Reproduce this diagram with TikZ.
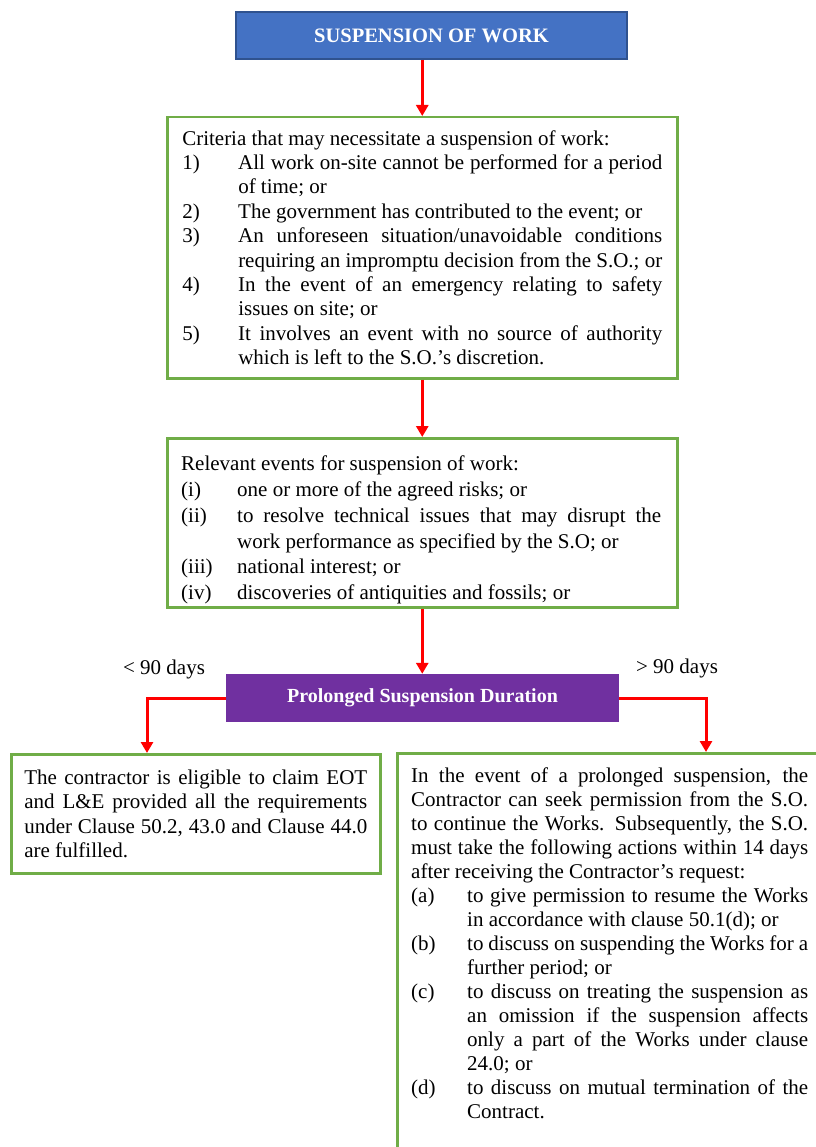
\documentclass[tikz,border=0pt]{standalone}
\usepackage{fontspec}
\setmainfont{Liberation Serif}
\usetikzlibrary{arrows.meta}
\definecolor{hdblue}{HTML}{4472C4}
\definecolor{hdblueline}{HTML}{2F528F}
\definecolor{boxgreen}{HTML}{70AD47}
\definecolor{durpurple}{HTML}{7030A0}
\hyphenpenalty=10000
\exhyphenpenalty=10000
\newcommand{\itm}[2]{\par\noindent\hangindent=56pt\hangafter=1\makebox[56pt][l]{#1}#2\par}

\begin{document}
\begin{tikzpicture}[x=1pt,y=-1pt,
  txt/.style={font=\fontsize{21}{24.4}\selectfont},
  headbox/.style={draw=hdblueline,line width=1.5pt,fill=hdblue,text=white,
    font=\fontsize{20.5}{24}\selectfont\bfseries,minimum width=391pt,minimum height=47pt,inner sep=0pt},
  durbox/.style={fill=durpurple,text=white,
    font=\fontsize{20}{24}\selectfont\bfseries,minimum width=393pt,minimum height=48pt,inner sep=0pt},
  infobox/.style={draw=boxgreen,line width=2.5pt,txt,align=justify,inner xsep=15pt,inner ysep=0pt,anchor=north west},
  bodytext/.style={txt,align=justify,inner sep=0pt,anchor=north west},
  arr/.style={draw=red,line width=3pt,-{Triangle[length=11pt,width=12pt]}}]

  \useasboundingbox (0,0) rectangle (815,1147);

  %%%%% BOXES %%%%%

  \node[headbox] (title) at (431.5,35.5) {SUSPENSION OF WORK};

  \node[infobox,text width=480pt,minimum width=510pt,minimum height=261pt] (crit) at (166,116) {\noindent
    Criteria that may necessitate a suspension of work:
    \itm{1)}{All work on-site cannot be performed for a period\linebreak of time; or}
    \itm{2)}{The government has contributed to the event; or}
    \itm{3)}{An unforeseen situation/unavoidable conditions\linebreak requiring an impromptu decision from the S.O.; or}
    \itm{4)}{In the event of an emergency relating to safety\linebreak issues on site; or}
    \itm{5)}{It involves an event with no source of authority\linebreak which is left to the S.O.'s discretion.}};

  \node[infobox,minimum width=510pt,minimum height=169pt] (events) at (166,437) {};
  \node[bodytext,font=\fontsize{21}{25.7}\selectfont,text width=480pt] (eventstext) at (181,456) {\noindent
    Relevant events for suspension of work:
    \itm{(i)}{one or more of the agreed risks; or}
    \itm{(ii)}{to resolve technical issues that may disrupt the\linebreak work performance as specified by the S.O; or}
    \itm{(iii)}{national interest; or}
    \itm{(iv)}{discoveries of antiquities and fossils; or}};

  \node[durbox] (dur) at (422.5,698) {Prolonged Suspension Duration};

  \node[txt] (lt90) at (164,669) {< 90 days};
  \node[txt] (gt90) at (677,668) {> 90 days};

  \node[infobox,inner xsep=13pt,text width=343pt,minimum width=369pt,minimum height=119pt] (lbox) at (10,753) {\noindent
    The contractor is eligible to claim EOT\linebreak and L\&E provided all the requirements\linebreak
    under Clause 50.2, 43.0 and Clause 44.0\linebreak are fulfilled.};

  \node[infobox,minimum width=427pt,minimum height=395pt] (rbox) at (396,752) {};
  \node[bodytext,font=\fontsize{21}{24}\selectfont,text width=397pt] (rboxtext) at (411,768) {\noindent
    In the event of a prolonged suspension, the\linebreak Contractor can seek permission from the S.O.\linebreak
    to continue the Works. Subsequently, the S.O.\linebreak must take the following actions within 14 days\linebreak
    after receiving the Contractor's request:
    \itm{(a)}{to give permission to resume the Works\linebreak in accordance with clause 50.1(d); or}
    \itm{(b)}{to discuss on suspending the Works for a\linebreak further period; or}
    \itm{(c)}{to discuss on treating the suspension as\linebreak an omission if the suspension affects\linebreak only a part of the Works under clause\linebreak 24.0; or}
    \itm{(d)}{to discuss on mutual termination of the\linebreak Contract.}};

  %%%%% ARROWS %%%%%

  \coordinate (lx) at (147,0);
  \coordinate (rx) at (706,0);

  \draw[arr] (title.south -| crit.north) -- (crit.north);
  \draw[arr] (crit.south) -- (events.north);
  \draw[arr] (events.south) -- (events.south |- dur.north);
  \draw[arr] (dur.west) -| (lx |- lbox.north);
  \draw[arr] (dur.east) -| (rx |- rbox.north);

\end{tikzpicture}
\end{document}
